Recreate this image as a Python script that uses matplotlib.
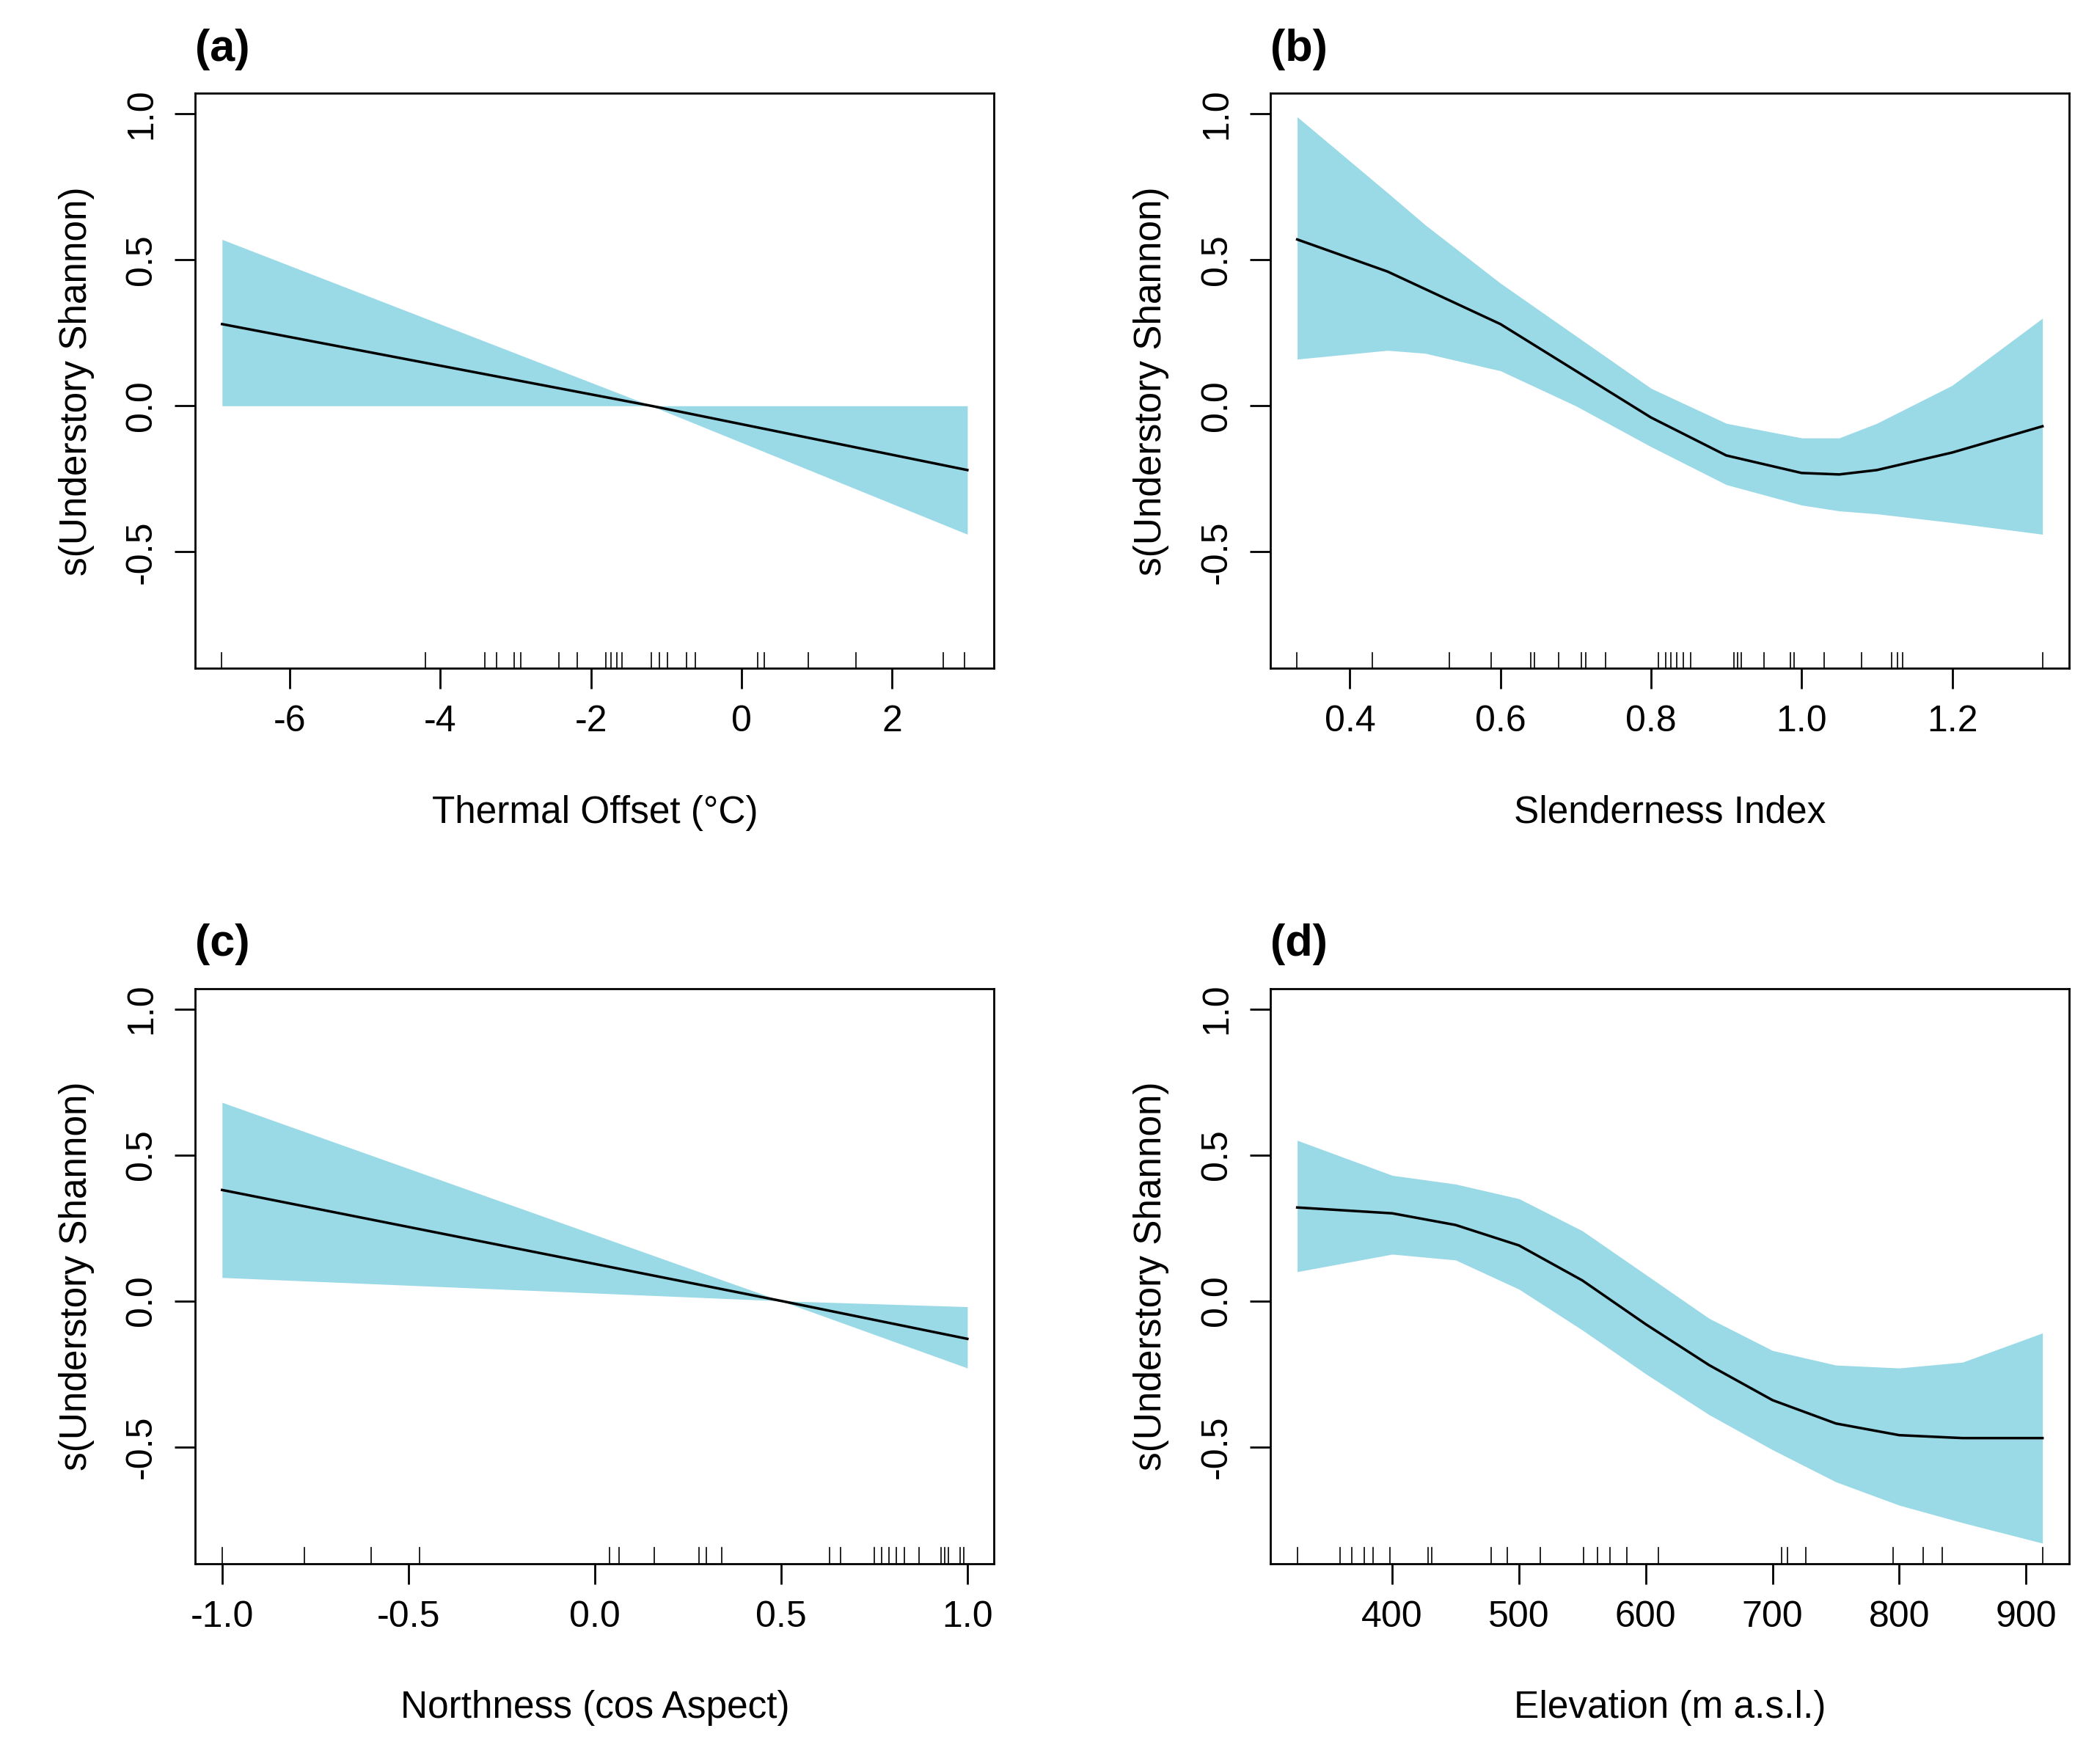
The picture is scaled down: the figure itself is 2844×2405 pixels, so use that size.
import numpy as np
import matplotlib.pyplot as plt
from matplotlib.transforms import blended_transform_factory

plt.rcParams['font.family'] = ['Liberation Sans', 'DejaVu Sans']
plt.rcParams['axes.unicode_minus'] = False

# (a) Thermal offset
a_x = [-6.9, -1.2, 3.0]
a_fit = [0.28, 0.0, -0.22]
a_up = [0.57, 0.0, 0.0]
a_lo = [0.0, 0.0, -0.44]
a_rug = [-6.91, -4.20, -3.41, -3.25, -3.02, -2.93, -2.43, -2.18, -1.80, -1.73, -1.66,
         -1.59, -1.20, -1.09, -0.98, -0.73, -0.61, 0.21, 0.30, 0.89, 1.52, 2.68, 2.96]

# (b) Slenderness
b_x = [0.33, 0.45, 0.5, 0.6, 0.7, 0.8, 0.9, 1.0, 1.05, 1.1, 1.2, 1.32]
b_fit = [0.57, 0.46, 0.40, 0.28, 0.12, -0.04, -0.17, -0.23, -0.235, -0.22, -0.16, -0.07]
b_up = [0.99, 0.73, 0.62, 0.42, 0.24, 0.06, -0.06, -0.11, -0.11, -0.06, 0.07, 0.30]
b_lo = [0.16, 0.19, 0.18, 0.12, 0.0, -0.14, -0.27, -0.34, -0.36, -0.37, -0.40, -0.44]
b_rug = [0.329, 0.43, 0.532, 0.588, 0.64, 0.645, 0.677, 0.707, 0.713, 0.74, 0.81, 0.82,
         0.826, 0.834, 0.843, 0.853, 0.91, 0.915, 0.92, 0.95, 0.985, 0.99, 1.03, 1.08,
         1.12, 1.127, 1.134, 1.32]

# (c) Northness
c_x = [-1.0, 0.5, 1.0]
c_fit = [0.38, 0.0, -0.13]
c_up = [0.68, 0.0, -0.02]
c_lo = [0.08, 0.0, -0.23]
c_rug = [-1.0, -0.78, -0.60, -0.47, 0.04, 0.065, 0.16, 0.28, 0.30, 0.34, 0.63, 0.66,
         0.75, 0.77, 0.79, 0.81, 0.83, 0.87, 0.93, 0.94, 0.95, 0.98, 0.99]

# (d) Elevation
d_x = [325, 400, 450, 500, 550, 600, 650, 700, 750, 800, 850, 913]
d_fit = [0.32, 0.30, 0.26, 0.19, 0.07, -0.08, -0.22, -0.34, -0.42, -0.46, -0.47, -0.47]
d_up = [0.55, 0.43, 0.40, 0.35, 0.24, 0.09, -0.06, -0.17, -0.22, -0.23, -0.21, -0.11]
d_lo = [0.10, 0.16, 0.14, 0.04, -0.10, -0.25, -0.39, -0.51, -0.62, -0.70, -0.76, -0.83]
d_rug = [325, 359, 368, 378, 385, 398, 428, 431, 478, 491, 517, 551, 562, 572, 585, 610,
         707, 712, 726, 795, 819, 834, 913]

panels = [
    ('(a)', 'Thermal Offset (°C)', a_x, a_fit, a_up, a_lo, a_rug, [-6, -4, -2, 0, 2], None),
    ('(b)', 'Slenderness Index', b_x, b_fit, b_up, b_lo, b_rug, [0.4, 0.6, 0.8, 1.0, 1.2], '%.1f'),
    ('(c)', 'Northness (cos Aspect)', c_x, c_fit, c_up, c_lo, c_rug, [-1.0, -0.5, 0.0, 0.5, 1.0], '%.1f'),
    ('(d)', 'Elevation (m a.s.l.)', d_x, d_fit, d_up, d_lo, d_rug, [400, 500, 600, 700, 800, 900], None),
]

fig = plt.figure(figsize=(28.44, 24.05), dpi=100)
rects = [[0.0936, 0.621, 0.383, 0.326], [0.609, 0.621, 0.383, 0.326],
         [0.0936, 0.1136, 0.383, 0.326], [0.609, 0.1136, 0.383, 0.326]]
band = '#9AD9E6'

for rect, (tag, xlab, x, fit, up, lo, rug, xt, fmt) in zip(rects, panels):
    ax = fig.add_axes(rect)
    ax.fill_between(x, lo, up, color=band, lw=0)
    ax.plot(x, fit, color='black', lw=2.5)
    tr = blended_transform_factory(ax.transData, ax.transAxes)
    for r in rug:
        ax.plot([r, r], [0, 0.028], color='black', lw=1.2, transform=tr, clip_on=False)
    span = x[-1] - x[0]
    ax.set_xlim(x[0] - 0.036 * span, x[-1] + 0.036 * span)
    ax.set_ylim(-0.90, 1.07)
    ax.set_yticks([-0.5, 0.0, 0.5, 1.0])
    ax.set_yticklabels(['-0.5', '0.0', '0.5', '1.0'], rotation=90, va='center')
    ax.set_xticks(xt)
    if fmt:
        ax.set_xticklabels([fmt % v for v in xt])
    ax.tick_params(labelsize=36, length=20, width=2, direction='out', pad=16)
    for s in ax.spines.values():
        s.set_linewidth(2)
    ax.set_xlabel(xlab, fontsize=37, labelpad=55)
    ax.set_ylabel('s(Understory Shannon)', fontsize=37, labelpad=30)
    ax.text(0.0, 1.04, tag, transform=ax.transAxes, fontsize=44, fontweight='bold',
            ha='left', va='bottom')

fig.savefig('out.png', dpi=100)
